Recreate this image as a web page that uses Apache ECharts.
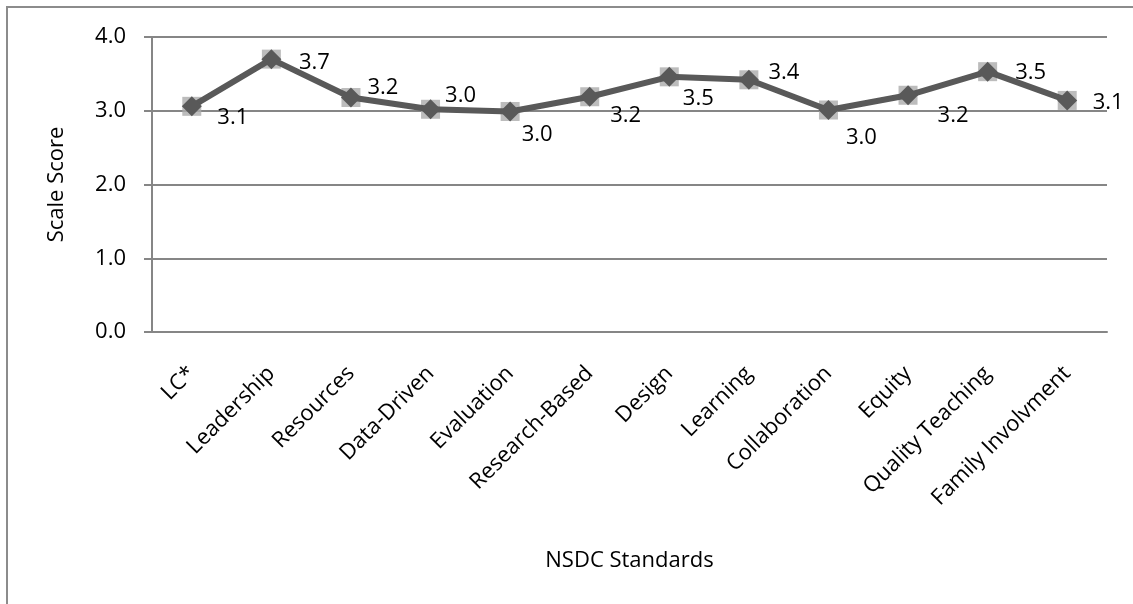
<!DOCTYPE html>
<html>
<head>
<meta charset="utf-8">
<script src="https://cdn.jsdelivr.net/npm/echarts@6/dist/echarts.min.js"></script>
<style>
  html, body { margin: 0; padding: 0; background: #ffffff; }
  #chart { width: 1133px; height: 604px; }
</style>
</head>
<body>
<div id="chart"></div>
<script>
// NSDC standards and their mean scale scores
const categories = ['LC*', 'Leadership', 'Resources', 'Data-Driven', 'Evaluation', 'Research-Based',
  'Design', 'Learning', 'Collaboration', 'Equity', 'Quality Teaching', 'Family Involvment'];
const scores = [3.06, 3.70, 3.18, 3.02, 2.99, 3.19, 3.46, 3.42, 3.01, 3.21, 3.53, 3.14];
const yTicks = [0, 1, 2, 3, 4];

// where each value label sits relative to its marker (px)
const labelOffsets = [[41, 11], [43, 4], [32, -10], [30, -14], [27, 23], [36, 19],
  [29, 22], [35, -7], [33, 28], [45, 20], [43, 1], [41, 2]];

const FONT = '"Open Sans", "Liberation Sans", sans-serif';
const FS = 22;
const chart = echarts.init(document.getElementById('chart'), null, { renderer: 'canvas' });

const lineData = scores.map((v, i) => ({
  value: v,
  label: { offset: labelOffsets[i] }
}));

chart.setOption({
  animation: false,
  backgroundColor: '#ffffff',
  graphic: [{
    type: 'rect',
    silent: true,
    shape: { x: 7, y: 7, width: 1300, height: 800 },
    style: { fill: 'none', stroke: '#8c8c8c', lineWidth: 2 }
  }],
  grid: { left: 152, right: 26, top: 37, bottom: 272, containLabel: false },
  xAxis: {
    type: 'category',
    data: categories,
    boundaryGap: true,
    name: 'NSDC Standards',
    nameLocation: 'middle',
    nameGap: 218,
    nameTextStyle: { fontFamily: FONT, fontSize: FS, color: '#000' },
    axisLine: { lineStyle: { color: '#868686', width: 2 } },
    axisTick: { show: false },
    axisLabel: { rotate: 45, margin: 38, interval: 0, fontFamily: FONT, fontSize: FS, color: '#000' },
    splitLine: { show: false }
  },
  yAxis: {
    type: 'value',
    min: yTicks[0],
    max: yTicks[yTicks.length - 1],
    interval: 1,
    name: 'Scale Score',
    nameLocation: 'middle',
    nameGap: 84,
    nameTextStyle: { fontFamily: FONT, fontSize: FS, color: '#000' },
    axisLine: { show: true, lineStyle: { color: '#868686', width: 2 } },
    axisTick: { show: true, length: 8, lineStyle: { color: '#868686', width: 2 } },
    axisLabel: { margin: 26, fontFamily: FONT, fontSize: FS, color: '#000',
      formatter: v => v.toFixed(1) },
    splitLine: { show: true, lineStyle: { color: '#868686', width: 2 } }
  },
  series: [
    {
      // light square behind each point
      type: 'scatter',
      data: scores,
      symbol: 'rect',
      symbolSize: 19,
      itemStyle: { color: '#ababab' },
      z: 2,
      silent: true
    },
    {
      type: 'line',
      data: lineData,
      symbol: 'diamond',
      symbolSize: 20,
      showAllSymbol: true,
      lineStyle: { color: '#595959', width: 6 },
      itemStyle: { color: '#595959' },
      z: 3,
      label: {
        show: true,
        position: 'inside',
        fontFamily: FONT,
        fontSize: FS,
        color: '#000',
        formatter: p => p.value.toFixed(1)
      }
    }
  ]
});
</script>
</body>
</html>
